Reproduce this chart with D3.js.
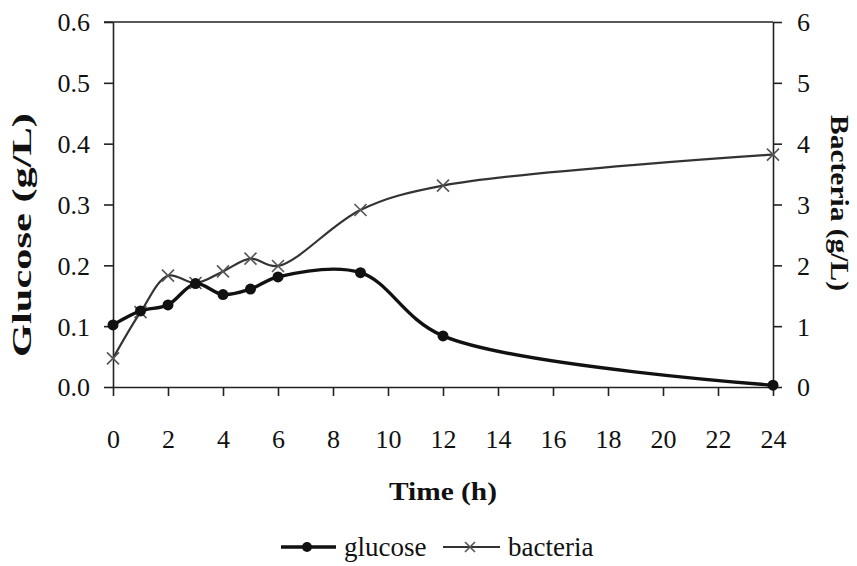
<!DOCTYPE html>
<html>
<head>
<meta charset="utf-8">
<script src="https://cdn.jsdelivr.net/npm/d3@7"></script>
<style>
  body { margin: 0; background: #fff; }
  text { font-family: "Liberation Serif", "Times New Roman", serif; fill: #111; }
</style>
</head>
<body>
<div id="my_dataviz"></div>
<script>
// sampling times (h)
var hours = [0, 1, 2, 3, 4, 5, 6, 9, 12, 24];
// glucose (g/L), left axis
var glucose = [0.102, 0.125, 0.135, 0.170, 0.152, 0.161, 0.181, 0.188, 0.084, 0.003];
// bacteria (g/L), right axis
var bacteria = [0.47, 1.23, 1.83, 1.71, 1.90, 2.11, 1.99, 2.91, 3.31, 3.82];

var xTicks = [0, 2, 4, 6, 8, 10, 12, 14, 16, 18, 20, 22, 24];
var yLeftTicks = [0, 0.1, 0.2, 0.3, 0.4, 0.5, 0.6];
var yRightTicks = [0, 1, 2, 3, 4, 5, 6];

var margin = {top: 22, right: 84, bottom: 179, left: 113},
    width = 857 - margin.left - margin.right,
    height = 566 - margin.top - margin.bottom;

var svg = d3.select("#my_dataviz")
  .append("svg")
    .attr("width", 857)
    .attr("height", 566)
  .append("g")
    .attr("transform", "translate(" + margin.left + "," + margin.top + ")");

var x = d3.scaleLinear().domain([0, 24]).range([0, width]);
var yL = d3.scaleLinear().domain([0, 0.6]).range([height, 0]);
var yR = d3.scaleLinear().domain([0, 6]).range([height, 0]);

// top frame line
svg.append("line")
  .attr("x1", -9).attr("x2", width)
  .attr("y1", 0).attr("y2", 0)
  .attr("stroke", "#222").attr("stroke-width", 1.6);

// axes
var xAxis = svg.append("g")
  .attr("transform", "translate(0," + height + ")")
  .call(d3.axisBottom(x).tickValues(xTicks).tickSize(9).tickPadding(33).tickSizeOuter(0));

var yAxisL = svg.append("g")
  .call(d3.axisLeft(yL).tickValues(yLeftTicks).tickFormat(d3.format(".1f")).tickSize(9).tickPadding(14).tickSizeOuter(0));

var yAxisR = svg.append("g")
  .attr("transform", "translate(" + width + ",0)")
  .call(d3.axisRight(yR).tickValues(yRightTicks).tickFormat(d3.format("d")).tickSize(9).tickPadding(15).tickSizeOuter(0));

[xAxis, yAxisL, yAxisR].forEach(function(a) {
  a.select(".domain").attr("stroke", "#222").attr("stroke-width", 1.6);
  a.selectAll(".tick line").attr("stroke", "#222").attr("stroke-width", 1.6);
  a.selectAll("text")
    .attr("fill", "#111")
    .style("font-size", "26px")
    .style("font-family", "'Liberation Serif', serif");
});
yAxisL.selectAll("text").attr("dy", "0.34em");
yAxisR.selectAll("text").attr("dy", "0.34em");
xAxis.selectAll("text").attr("dy", "0.72em");

// axis titles
svg.append("text")
  .attr("x", width / 2)
  .attr("y", 478)
  .attr("text-anchor", "middle")
  .attr("textLength", 108)
  .attr("lengthAdjust", "spacingAndGlyphs")
  .style("font-size", "26px")
  .style("font-weight", "bold")
  .text("Time (h)");

svg.append("text")
  .attr("transform", "translate(-82," + 213 + ") rotate(-90)")
  .attr("text-anchor", "middle")
  .attr("textLength", 244)
  .attr("lengthAdjust", "spacingAndGlyphs")
  .style("font-size", "27px")
  .style("font-weight", "bold")
  .text("Glucose (g/L)");

svg.append("text")
  .attr("transform", "translate(" + (width + 58) + "," + 181 + ") rotate(90)")
  .attr("text-anchor", "middle")
  .attr("textLength", 176)
  .attr("lengthAdjust", "spacingAndGlyphs")
  .style("font-size", "25px")
  .style("font-weight", "bold")
  .text("Bacteria (g/L)");

// series data
var gData = hours.map(function(h, i) { return {x: h, y: glucose[i]}; });
var bData = hours.map(function(h, i) { return {x: h, y: bacteria[i]}; });

var lineG = d3.line()
  .x(function(d) { return x(d.x); })
  .y(function(d) { return yL(d.y); })
  .curve(d3.curveCatmullRom.alpha(0.5));

var lineB = d3.line()
  .x(function(d) { return x(d.x); })
  .y(function(d) { return yR(d.y); })
  .curve(d3.curveCatmullRom.alpha(0.5));

svg.append("path")
  .datum(bData)
  .attr("d", lineB)
  .attr("fill", "none")
  .attr("stroke", "#333")
  .attr("stroke-width", 2.2);

svg.append("path")
  .datum(gData)
  .attr("d", lineG)
  .attr("fill", "none")
  .attr("stroke", "#111")
  .attr("stroke-width", 3.4);

// x markers for bacteria
function cross(sel, s) {
  sel.append("path")
    .attr("d", "M" + (-s) + "," + (-s) + "L" + s + "," + s + "M" + (-s) + "," + s + "L" + s + "," + (-s))
    .attr("stroke", "#555")
    .attr("stroke-width", 1.6)
    .attr("fill", "none");
}

svg.selectAll(".bmark")
  .data(bData)
  .enter()
  .append("g")
    .attr("class", "bmark")
    .attr("transform", function(d) { return "translate(" + x(d.x) + "," + yR(d.y) + ")"; })
    .each(function() { cross(d3.select(this), 6); });

svg.selectAll(".gmark")
  .data(gData)
  .enter()
  .append("circle")
    .attr("class", "gmark")
    .attr("cx", function(d) { return x(d.x); })
    .attr("cy", function(d) { return yL(d.y); })
    .attr("r", 5.5)
    .attr("fill", "#111");

// legend
var legend = d3.select("svg").append("g").attr("transform", "translate(0,547)");
legend.append("line")
  .attr("x1", 281).attr("x2", 336).attr("y1", 0).attr("y2", 0)
  .attr("stroke", "#111").attr("stroke-width", 3.4);
legend.append("circle").attr("cx", 307).attr("cy", 0).attr("r", 5).attr("fill", "#111");
legend.append("text")
  .attr("x", 344).attr("y", 9)
  .style("font-size", "27px")
  .text("glucose");

legend.append("line")
  .attr("x1", 443).attr("x2", 500).attr("y1", 0).attr("y2", 0)
  .attr("stroke", "#333").attr("stroke-width", 2.2);
legend.append("g")
  .attr("transform", "translate(470,0)")
  .call(function(g) { cross(g, 5); });
legend.append("text")
  .attr("x", 508).attr("y", 9)
  .style("font-size", "27px")
  .text("bacteria");
</script>
</body>
</html>
